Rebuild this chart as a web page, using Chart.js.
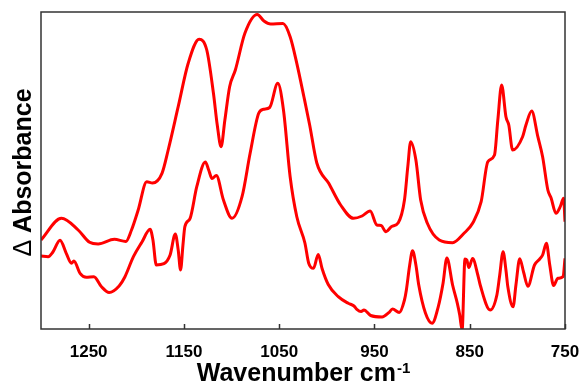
<!DOCTYPE html>
<html>
<head>
<meta charset="utf-8">
<script src="https://cdn.jsdelivr.net/npm/chart.js@4.4.0/dist/chart.umd.min.js"></script>
<style>
  html, body { margin: 0; padding: 0; background: #fff; }
  #wrap { width: 581px; height: 383px; }
</style>
</head>
<body>
<div id="wrap"><canvas id="espectro" width="581" height="383"></canvas></div>
<script>
"use strict";
/* espectro ir diferencia - dos trazas */

var upperWn = [1300, 1278.5, 1261, 1249, 1240, 1223, 1211, 1205, 1198, 1189, 1183, 1173, 1166.5, 1156, 1145.5,
  1134, 1126, 1119, 1115, 1111, 1107, 1102, 1096, 1086, 1073, 1066, 1059, 1046, 1038.5, 1031.5, 1024, 1018,
  1010.5, 998, 985.5, 972, 963, 954.5, 947.5, 943, 938, 932, 925, 918.5, 915, 912, 906.5, 901.5, 894.5, 882,
  868, 856, 847, 838, 831, 824, 820.5, 816.5, 812, 809, 805, 794.5, 791, 785, 778.5, 773.5, 768, 764.5,
  759.5, 755, 751.5, 750];
var upperAbs = [89, 110.7, 99, 86.7, 85, 89.7, 87.5, 99, 119, 147.3, 146, 155.7, 179, 222.3, 265.7,
  289.7, 279, 235.7, 204, 182.3, 209, 242.3, 259, 295.7, 314.5, 308, 305, 305.5, 292.3, 265.7, 232, 204,
  166, 145.7, 124, 110.7, 113, 118, 104, 103.5, 97.3, 102.5, 106.3, 129, 162.3, 187.3, 169, 129, 105.7, 89,
  86.3, 95.7, 105.7, 127.3, 167.3, 174, 209, 244, 212.3, 204, 179, 192.3, 204, 218, 192.3, 172.3, 139, 130.7,
  115.7, 122.3, 130.7, 107.3];

var lowerWn = [1300, 1292.5, 1287.5, 1280, 1273.5, 1268, 1265.5, 1259, 1252.5, 1244.5, 1236.5, 1228.5, 1218,
  1212, 1203, 1194, 1185.5, 1182.5, 1179, 1171, 1164.5, 1159, 1156, 1153.5, 1151, 1149, 1143.5, 1136.5,
  1127.5, 1124, 1120.5, 1116, 1108.5, 1099.5, 1089, 1080.5, 1071.5, 1066.5, 1060, 1051.5, 1045.5, 1038.5,
  1031.5, 1023, 1019, 1014, 1009, 1005, 998.5, 988, 977.5, 971.5, 968.5, 964, 961, 954, 942, 935, 931, 924,
  918.5, 916.5, 913, 910, 906.5, 903.5, 896.5, 889.5, 883, 878, 874, 868, 863, 860.5, 858, 855, 853, 851,
  847, 841.5, 839, 828.5, 821.5, 818.5, 815, 812, 810, 804.5, 801.5, 797.5, 793.5, 789, 782, 776.5, 773.5,
  769.5, 766, 762, 757.5, 752, 750];
var lowerAbs = [73, 72.3, 77, 88.7, 75.7, 65.7, 68, 55.7, 51.7, 52.3, 42.3, 36.5, 43,
  52, 72.3, 87, 99.7, 89, 64, 65.3, 74, 95, 79, 59, 84, 102.3, 110.7, 142.3,
  167, 159, 150.5, 153.5, 129, 110.7, 132.3, 175.7, 215.7, 219.7, 221.5, 245.7, 219, 152.3,
  112.3, 86, 65.7, 60.7, 74.5, 60.5, 44.5, 32.3, 25.7, 23, 19.7, 17.5, 19, 13.5, 12, 16.3, 20, 16.5,
  29, 39, 64, 78.3, 64, 44, 16, 5.7, 22.3, 45.7, 71, 44, 25.7, 14, -1, 70, 69, 61.5,
  70.5, 54, 44, 19, 34, 54, 77.3, 59, 42.3, 22.3, 44, 70.3, 57, 42.7, 64, 70, 74,
  85.7, 64, 43.5, 50.7, 52.3, 70.7];

var tickVals = [1250, 1150, 1050, 950, 850, 750];
var tickLabels = ["1250", "1150", "1050", "950", "850", "750"];

var fuente = "'Liberation Sans', Arial, sans-serif";

function pares(xs, ys) {
  return xs.map(function (x, i) { return { x: x, y: ys[i] }; });
}

// marco, marcas hacia dentro y titulos de ejes
var marco = {
  id: "marco",
  afterDraw: function (chart) {
    var ctx = chart.ctx;
    var a = chart.chartArea;
    var sx = chart.scales.x;
    ctx.save();
    ctx.strokeStyle = "#333";
    ctx.lineWidth = 1.5;
    ctx.strokeRect(a.left, a.top, a.right - a.left, a.bottom - a.top);
    ctx.beginPath();
    tickVals.forEach(function (v) {
      var px = Math.round(sx.getPixelForValue(v)) + 0.5;
      ctx.moveTo(px, a.bottom);
      ctx.lineTo(px, a.bottom - 5);
    });
    ctx.stroke();

    // titulo x con superindice
    ctx.fillStyle = "#000";
    ctx.textBaseline = "alphabetic";
    ctx.font = "bold 25px " + fuente;
    var base = "Wavenumber cm";
    var wBase = ctx.measureText(base).width;
    ctx.font = "bold 15px " + fuente;
    var sup = "-1";
    var wSup = ctx.measureText(sup).width;
    var x0 = (a.left + a.right) / 2 - (wBase + wSup) / 2;
    ctx.font = "bold 25px " + fuente;
    ctx.textAlign = "left";
    ctx.fillText(base, x0, 381);
    ctx.font = "bold 15px " + fuente;
    ctx.fillText(sup, x0 + wBase + 1, 373);

    // titulo y girado
    ctx.translate(31, (a.top + a.bottom) / 2 + 2);
    ctx.rotate(-Math.PI / 2);
    ctx.font = "25px " + fuente;
    var delta = "\u0394";
    var wD = ctx.measureText(delta).width;
    ctx.font = "bold 25px " + fuente;
    var resto = " Absorbance";
    var wR = ctx.measureText(resto).width;
    var y0 = -(wD + wR) / 2;
    ctx.font = "25px " + fuente;
    ctx.fillText(delta, y0, 0);
    ctx.font = "bold 25px " + fuente;
    ctx.fillText(resto, y0 + wD, 0);
    ctx.restore();
  }
};

var ctx = document.getElementById("espectro").getContext("2d");
new Chart(ctx, {
  type: "line",
  data: {
    datasets: [{
      label: "superior",
      data: pares(upperWn, upperAbs),
      borderColor: "#ff0000",
      borderWidth: 3,
      pointRadius: 0,
      fill: false,
      cubicInterpolationMode: "monotone"
    }, {
      label: "inferior",
      data: pares(lowerWn, lowerAbs),
      borderColor: "#ff0000",
      borderWidth: 3,
      pointRadius: 0,
      fill: false,
      cubicInterpolationMode: "monotone"
    }]
  },
  options: {
    responsive: false,
    animation: false,
    layout: { padding: { top: 12, right: 16, left: 0, bottom: 0 } },
    plugins: { legend: { display: false }, tooltip: { enabled: false } },
    scales: {
      x: {
        type: "linear",
        reverse: true,
        min: 750,
        max: 1300,
        afterBuildTicks: function (s) {
          s.ticks = tickVals.map(function (v) { return { value: v }; });
        },
        afterFit: function (s) {
          s.height = 54;
          s.paddingLeft = 0;
          s.paddingRight = 0;
        },
        grid: { display: false, drawTicks: false },
        border: { display: false },
        ticks: {
          autoSkip: false,
          maxRotation: 0,
          padding: 13,
          color: "#000",
          font: { family: fuente, size: 17, weight: "bold" },
          callback: function (v) {
            var i = tickVals.indexOf(v);
            return i >= 0 ? tickLabels[i] : "";
          }
        }
      },
      y: {
        min: 0,
        max: 317,
        afterFit: function (s) { s.width = 41; },
        grid: { display: false, drawTicks: false },
        border: { display: false },
        ticks: { display: false }
      }
    }
  },
  plugins: [marco]
});
</script>
</body>
</html>
